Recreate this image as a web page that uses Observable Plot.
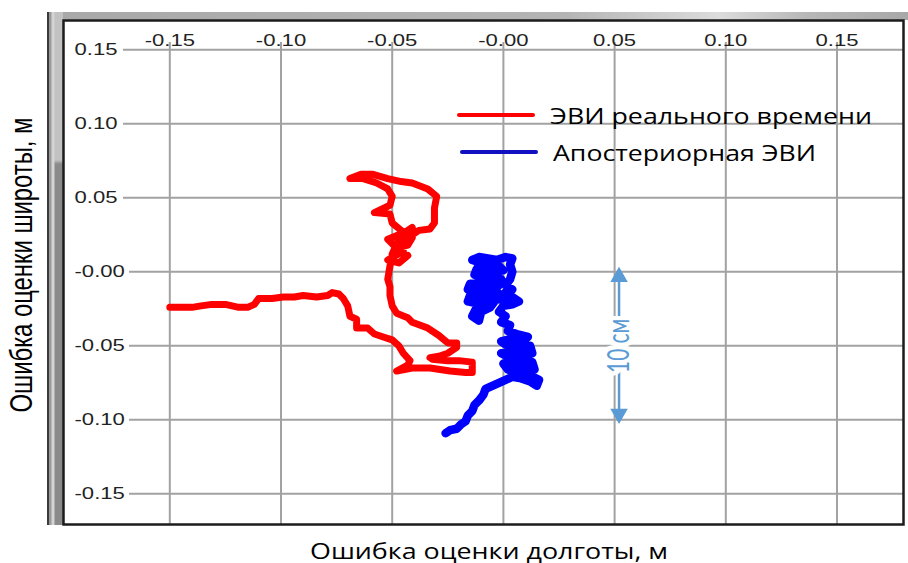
<!DOCTYPE html>
<html>
<head>
<meta charset="utf-8">
<script src="https://cdn.jsdelivr.net/npm/d3@7"></script>
<script src="https://cdn.jsdelivr.net/npm/@observablehq/plot@0.6"></script>
<style>
  html, body { margin: 0; padding: 0; background: #fff; }
  #wrap { position: relative; width: 908px; height: 563px; background: #fff; overflow: hidden; }
  .band { position: absolute; }
  #bandT { left: 47px; top: 12px; width: 861px; height: 8px;
    background: linear-gradient(to right, #a8a8a8 0%, #b4b4b4 60%, #dcdcdc 78%, #b8b8b8 88%, #a8a8a8 100%); }
  #bandL { left: 47px; top: 12px; width: 14px; height: 513px; border-left: 2px solid #3a3a3a;
    background: linear-gradient(to right, #9a9a9a 0, #9a9a9a 2px, #d4d4d4 3px, #d4d4d4 5px, transparent 6px),
                linear-gradient(to bottom, #c2c2c2 0, #c2c2c2 148px, #8a8a8a 152px, #8a8a8a 100%); }
  #chart { position: absolute; left: 0; top: 0; }
  .lab { position: absolute; left: 0; top: 0; white-space: nowrap; transform-origin: 0 0; line-height: 1; color: #000; }
  .leg-line { position: absolute; height: 4px; border-radius: 2px; }
</style>
</head>
<body>
<div id="wrap">
  <div class="band" id="bandT"></div>
  <div class="band" id="bandL"></div>
  <div id="chart"></div>
  <div class="leg-line" id="legRedLine" style="left:457px;top:113px;width:78px;background:#ff0000"></div>
  <div class="leg-line" id="legBlueLine" style="left:460px;top:150px;width:78px;background:#1010c0"></div>
  <div class="lab" id="legRed" style="font-family:'Open Sans';font-size:22px"></div>
  <div class="lab" id="legBlue" style="font-family:'Open Sans';font-size:22px"></div>
  <div class="lab" id="xTitle" style="font-family:'Open Sans';font-size:21px"></div>
  <div class="lab" id="yTitle" style="font-family:'Liberation Sans';font-size:23.5px"></div>
</div>
<script>
// ---- data (metres) ----
const xTicks = [-0.15, -0.10, -0.05, 0, 0.05, 0.10, 0.15];
const xTickLabels = ["-0.15", "-0.10", "-0.05", "-0.00", "0.05", "0.10", "0.15"];
const yTicks = [0.15, 0.10, 0.05, 0, -0.05, -0.10, -0.15];
const yTickLabels = ["0.15", "0.10", "0.05", "-0.00", "-0.05", "-0.10", "-0.15"];

const seriesNames = ["ЭВИ реального времени", "Апостериорная ЭВИ"];
const xTitle = "Ошибка оценки долготы, м";
const yTitle = "Ошибка оценки широты, м";

// real-time EVI error track
const redLon = [-0.150, -0.146, -0.140, -0.136, -0.131, -0.125, -0.119, -0.115, -0.112, -0.110,
  -0.104, -0.099, -0.094, -0.090, -0.084, -0.079, -0.077, -0.074, -0.072, -0.070,
  -0.069, -0.066, -0.066, -0.061, -0.058, -0.054, -0.050, -0.047, -0.045, -0.042,
  -0.043, -0.048, -0.041, -0.033, -0.024, -0.017, -0.014, -0.014, -0.020, -0.025,
  -0.032, -0.033, -0.029, -0.025, -0.021, -0.021, -0.025, -0.029, -0.034, -0.041,
  -0.043, -0.048, -0.050, -0.051, -0.051, -0.052, -0.051, -0.050, -0.048, -0.045,
  -0.042, -0.038, -0.033, -0.031, -0.031, -0.030, -0.034, -0.041, -0.046, -0.052,
  -0.059, -0.064, -0.069, -0.063, -0.057, -0.052, -0.050, -0.051, -0.058, -0.051,
  -0.050, -0.046, -0.041, -0.043, -0.048, -0.052, -0.044, -0.041, -0.046, -0.050,
  -0.045, -0.052, -0.047, -0.043];
const redLat = [-0.024, -0.024, -0.024, -0.023, -0.022, -0.022, -0.024, -0.024, -0.022, -0.018,
  -0.018, -0.017, -0.017, -0.016, -0.017, -0.016, -0.014, -0.015, -0.018, -0.023,
  -0.030, -0.032, -0.038, -0.038, -0.042, -0.044, -0.046, -0.050, -0.055, -0.060,
  -0.063, -0.067, -0.065, -0.065, -0.067, -0.068, -0.068, -0.061, -0.060, -0.060,
  -0.059, -0.058, -0.057, -0.055, -0.051, -0.048, -0.048, -0.043, -0.038, -0.034,
  -0.031, -0.028, -0.023, -0.016, -0.010, -0.005, 0.004, 0.011, 0.016, 0.020,
  0.024, 0.028, 0.029, 0.033, 0.043, 0.051, 0.056, 0.060, 0.061, 0.063,
  0.066, 0.066, 0.063, 0.063, 0.060, 0.056, 0.051, 0.045, 0.040, 0.039,
  0.033, 0.028, 0.023, 0.018, 0.016, 0.022, 0.027, 0.030, 0.025, 0.012,
  0.014, 0.008, 0.006, 0.011];

// a-posteriori EVI error track
const blueLon = [-0.026, -0.024, -0.021, -0.019, -0.017, -0.016, -0.014, -0.013, -0.011, -0.009,
  -0.008, -0.005, -0.002, 0.001, 0.004,
  0.008, 0.012, 0.015, 0.016, 0.012, 0.006, 0.002, 0.000, 0.005, 0.010,
  0.014, 0.013, 0.008, 0.003, -0.001, 0.004, 0.009, 0.013, 0.012, 0.007,
  0.002, -0.001, 0.004, 0.009, 0.011,
  0.006, 0.002, 0.003, -0.001, 0.001, -0.002, 0.000, 0.004, 0.007, 0.004,
  -0.004, -0.008, -0.012, -0.014, -0.011, -0.010, -0.006,
  -0.003, 0.001, 0.004, 0.001, 0.003, 0.004, 0.003, 0.004, 0.001, -0.003,
  -0.007, -0.011, -0.014, -0.010, -0.006, -0.002, 0.000, -0.004, -0.008, -0.012,
  -0.013, -0.009, -0.005, -0.001, -0.002, -0.006, -0.011, -0.015, -0.016, -0.012,
  -0.008, -0.003, -0.005, -0.010, -0.015, -0.016, -0.013, -0.009, -0.006];
const blueLat = [-0.109, -0.107, -0.106, -0.103, -0.101, -0.097, -0.094, -0.090, -0.087, -0.083,
  -0.079, -0.077, -0.075, -0.073, -0.071,
  -0.072, -0.074, -0.077, -0.073, -0.070, -0.068, -0.066, -0.062, -0.063, -0.065,
  -0.066, -0.061, -0.059, -0.058, -0.055, -0.054, -0.055, -0.055, -0.050, -0.050,
  -0.050, -0.047, -0.045, -0.046, -0.044,
  -0.042, -0.040, -0.036, -0.034, -0.030, -0.027, -0.023, -0.022, -0.020, -0.017,
  -0.019, -0.022, -0.024, -0.030, -0.033, -0.027, -0.024,
  -0.018, -0.014, -0.012, -0.009, -0.005, 0.000, 0.005, 0.009, 0.010, 0.008,
  0.009, 0.010, 0.008, 0.006, 0.005, 0.004, 0.001, 0.000, 0.001, 0.002,
  -0.002, -0.004, -0.004, -0.005, -0.009, -0.009, -0.008, -0.008, -0.012, -0.013,
  -0.013, -0.013, -0.017, -0.017, -0.016, -0.020, -0.021, -0.020, -0.016];

// 10 cm span annotation
const spanLon = [0.052];
const spanTop = [0];
const spanBottom = [-0.10];
const spanLabel = ["10 см"];

// ---- build tables ----
const red = redLon.map((x, i) => ({x, y: redLat[i]}));
const blue = blueLon.map((x, i) => ({x, y: blueLat[i]}));
const span = spanLon.map((x, i) => ({x, y1: spanTop[i], y2: spanBottom[i], mid: (spanTop[i] + spanBottom[i]) / 2, label: spanLabel[i]}));
const xTickData = xTicks.map((v, i) => ({v, label: xTickLabels[i]}));
const yTickData = yTicks.map((v, i) => ({v, label: yTickLabels[i]}));

const gridColor = "#a2a2a2";
const spanColor = "#5b9bd5";

const chart = Plot.plot({
  width: 908, height: 563,
  marginLeft: 63, marginTop: 20, marginRight: 5, marginBottom: 39,
  x: {domain: [-0.1978, 0.1799], axis: null},
  y: {domain: [-0.1707, 0.1698], axis: null},
  style: {background: "transparent", overflow: "visible"},
  marks: [
    Plot.ruleX(xTicks, {x: d => d, stroke: gridColor, strokeWidth: 2, insetTop: 22}),
    Plot.ruleY(yTicks.filter(d => d > 0), {y: d => d, stroke: gridColor, strokeWidth: 2, insetLeft: 60}),
    Plot.ruleY(yTicks.filter(d => d <= 0), {y: d => d, stroke: gridColor, strokeWidth: 2, insetLeft: 66}),
    Plot.text(xTickData, {x: "v", text: "label", frameAnchor: "top", dy: 13, fontFamily: "Liberation Sans", fontSize: 17, fill: "#222"}),
    Plot.text(yTickData, {y: "v", text: "label", frameAnchor: "left", dx: 11, textAnchor: "start", fontFamily: "Liberation Sans", fontSize: 17, fill: "#222"}),
    Plot.line(red, {x: "x", y: "y", stroke: "#ff0000", strokeWidth: 7, strokeLinejoin: "round", curve: "linear"}),
    Plot.line(blue, {x: "x", y: "y", stroke: "#0000ff", strokeWidth: 8.5, strokeLinejoin: "round", curve: "linear"}),
    Plot.ruleX(span, {x: "x", y1: "y1", y2: "y2", stroke: spanColor, strokeWidth: 2.5, insetTop: 8, insetBottom: 8}),
    Plot.dot(span, {x: "x", y: "y1", symbol: "triangle", r: 6.5, fill: spanColor, stroke: "none", dy: 5}),
    Plot.dot(span, {x: "x", y: "y2", symbol: "triangle", r: 6.5, fill: spanColor, stroke: "none", rotate: 180, dy: -6}),
    Plot.text(span, {x: "x", y: "mid", text: "label", rotate: -90, fontFamily: "Lato", fontSize: 22, fill: spanColor, stroke: "white", strokeWidth: 9}),
    Plot.frame({stroke: "#1c1c1c", strokeWidth: 2.5})
  ]
});
document.getElementById("chart").appendChild(chart);

// horizontal stretch of the original bitmap fonts (scale about each text's anchor)
function stretch(sel, sx, sy) {
  chart.querySelectorAll(sel).forEach(t => {
    const tr = t.getAttribute("transform");
    if (tr) t.setAttribute("transform", `${tr} scale(${sx},${sy})`);
  });
}
stretch('g[font-family="Liberation Sans"] text', 1.3, 1);
stretch('g[font-family="Lato"] text', 0.95, 1.4);

// HTML labels fitted to the reference extents
function place(id, text, cx, cy, targetW, sy, rot, anchorLeft) {
  const el = document.getElementById(id);
  el.textContent = text;
  const w = el.getBoundingClientRect().width;
  const k = targetW / w;
  const tx = anchorLeft ? "translate(0,-50%)" : "translate(-50%,-50%)";
  el.style.transform = `translate(${cx}px, ${cy}px) rotate(${rot}deg) scale(${k}, ${sy}) ${tx}`;
}
place("legRed", seriesNames[0], 550, 115, 322, 1, 0, true);
place("legBlue", seriesNames[1], 553, 152, 263, 1, 0, true);
place("xTitle", xTitle, 489, 551, 358, 1, 0, false);
place("yTitle", yTitle, 22, 265, 295, 1.35, -90, false);
</script>
</body>
</html>
